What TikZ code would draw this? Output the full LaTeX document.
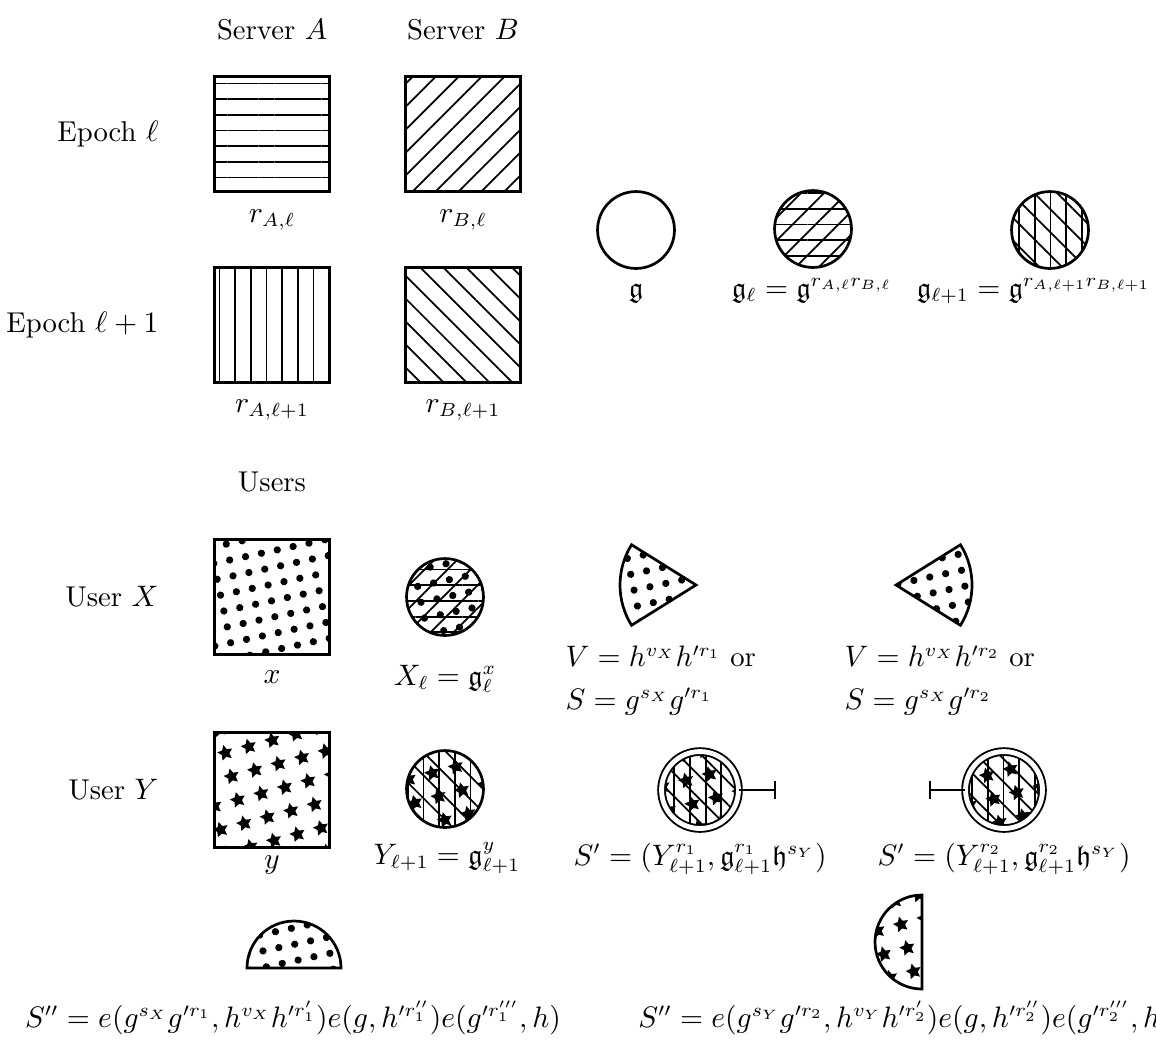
\documentclass[tikz,border=0pt]{standalone}
\usepackage{amsmath,amssymb}
\usepackage{tikz}
\usetikzlibrary{arrows.meta,patterns.meta}

\begin{document}
\begin{tikzpicture}[x=0.013cm,y=0.013cm,
  every node/.style={font=\fontsize{10.6}{12.7}\selectfont},
  secret/.style={draw,line width=1pt,minimum size=1.5cm,inner sep=0pt},
  elem/.style={circle,draw,line width=1pt,minimum size=1cm,inner sep=0pt},
  sig/.style={circle,draw,line width=.7pt,double,double distance=1.8pt,
              minimum size=1cm,inner sep=0pt},
  piece/.style={draw,line width=1pt},
  hatchH/.style={preaction={pattern={Lines[angle=0,distance=5.8pt,line width=.65pt]}}},
  hatchV/.style={preaction={pattern={Lines[angle=90,distance=5.8pt,line width=.65pt]}}},
  hatchNE/.style={preaction={pattern={Lines[angle=45,distance=6pt,line width=.65pt]}}},
  hatchNW/.style={preaction={pattern={Lines[angle=-45,distance=6pt,line width=.65pt]}}},
  dotfill/.style={preaction={pattern={Dots[radius=1.35pt,distance=6pt,angle=12]}}},
  starfill/.style={preaction={pattern={Stars[radius=3pt,distance=9pt,angle=15]}}},
  rowlab/.style={anchor=east},
  lab/.style={anchor=base},
  bar/.style={line width=.8pt,-{Bar[width=7pt]}}]
  \useasboundingbox (0,0) rectangle (1156,-1040);
  % servers and epochs
  \node (srvA) at (272,-30) {Server $A$};
  \node (srvB) at (463,-30) {Server $B$};
  \node[rowlab] (ep1) at (168,-134) {Epoch $\ell$};
  \node[rowlab] (ep2) at (168,-325) {Epoch $\ell+1$};
  \node[secret,hatchH] (rA1) at (272,-134) {};
  \node[secret,hatchNE] (rB1) at (463,-134) {};
  \node[secret,hatchV] (rA2) at (272,-325) {};
  \node[secret,hatchNW] (rB2) at (463,-325) {};
  \node[lab] (lA1) at (272,-222) {$r_{A,\ell}$};
  \node[lab] (lB1) at (463,-222) {$r_{B,\ell}$};
  \node[lab] (lA2) at (272,-412) {$r_{A,\ell+1}$};
  \node[lab] (lB2) at (463,-412) {$r_{B,\ell+1}$};
  % generators
  \node[elem] (g) at (636,-230) {};
  \node[elem,hatchH,hatchNE] (g1) at (813,-229) {};
  \node[elem,hatchV,hatchNW] (g2) at (1050,-230) {};
  \node[lab] (lg) at (636,-297) {$\mathfrak{g}$};
  \node[lab] (lg1) at (812,-297) {$\mathfrak{g}_\ell = \mathfrak{g}^{r_{A,\ell}r_{B,\ell}}$};
  \node[anchor=base east] (lg2) at (1160,-297)
    {$\mathfrak{g}_{\ell+1} = \mathfrak{g}^{r_{A,\ell+1}r_{B,\ell+1}}$};
  % users
  \node (users) at (272,-482) {Users};
  \node[rowlab] (ux) at (168,-597) {User $X$};
  \node[rowlab] (uy) at (168,-790) {User $Y$};
  \node[secret,dotfill] (x) at (272,-597) {};
  \node[secret,starfill] (y) at (272,-790) {};
  \node[lab] (lx) at (272,-683) {$x$};
  \node[lab] (ly) at (272,-868) {$y$};
  \node[elem,hatchH,hatchNE,dotfill] (Xl) at (445,-597) {};
  \node[elem,hatchV,hatchNW,starfill] (Yl) at (445,-789) {};
  \node[lab] (lXl) at (445,-685) {$X_\ell = \mathfrak{g}_\ell^x$};
  \node[lab] (lYl) at (447,-864) {$Y_{\ell+1} = \mathfrak{g}_{\ell+1}^y$};
  % pieces of user X
  \draw[piece,dotfill] (696,-585) -- ++(148:76)
    arc[start angle=148,end angle=212,radius=76] -- cycle;
  \draw[piece,dotfill] (896,-585) -- ++(32:76)
    arc[start angle=32,end angle=-32,radius=76] -- cycle;
  \node[anchor=north west,align=left] (vs1) at (556,-636)
    {$V = h^{v_X}h'^{r_1}$ or\\[3pt] $S = g^{s_X}g'^{r_1}$};
  \node[anchor=north west,align=left] (vs2) at (835,-636)
    {$V = h^{v_X}h'^{r_2}$ or\\[3pt] $S = g^{s_X}g'^{r_2}$};
  % signatures of user Y
  \node[sig,hatchV,hatchNW,starfill] (sp1) at (700,-790) {};
  \node[sig,hatchV,hatchNW,starfill] (sp2) at (1004,-790) {};
  \coordinate (t1) at (776,-790);
  \coordinate (t2) at (929,-790);
  \draw[bar] (sp1) -- (t1);
  \draw[bar] (sp2) -- (t2);
  \node[lab] (lsp1) at (700,-865)
    {$S' = (Y_{\ell+1}^{r_1}, \mathfrak{g}_{\ell+1}^{r_1}\mathfrak{h}^{s_Y})$};
  \node[lab] (lsp2) at (1004,-865)
    {$S' = (Y_{\ell+1}^{r_2}, \mathfrak{g}_{\ell+1}^{r_2}\mathfrak{h}^{s_Y})$};
  % halves
  \draw[piece,dotfill] (247,-968) arc[start angle=180,end angle=0,radius=47] -- cycle;
  \draw[piece,starfill] (922,-895) arc[start angle=90,end angle=270,radius=47] -- cycle;
  \node[lab] (s1) at (293,-1027)
    {$S'' = e(g^{s_X}g'^{r_1}, h^{v_X}h'^{r_1'})e(g, h'^{r_1''})e(g'^{r_1'''}, h)$};
  \node[lab] (s2) at (905,-1027)
    {$S'' = e(g^{s_Y}g'^{r_2}, h^{v_Y}h'^{r_2'})e(g, h'^{r_2''})e(g'^{r_2'''}, h)$};
\end{tikzpicture}
\end{document}
